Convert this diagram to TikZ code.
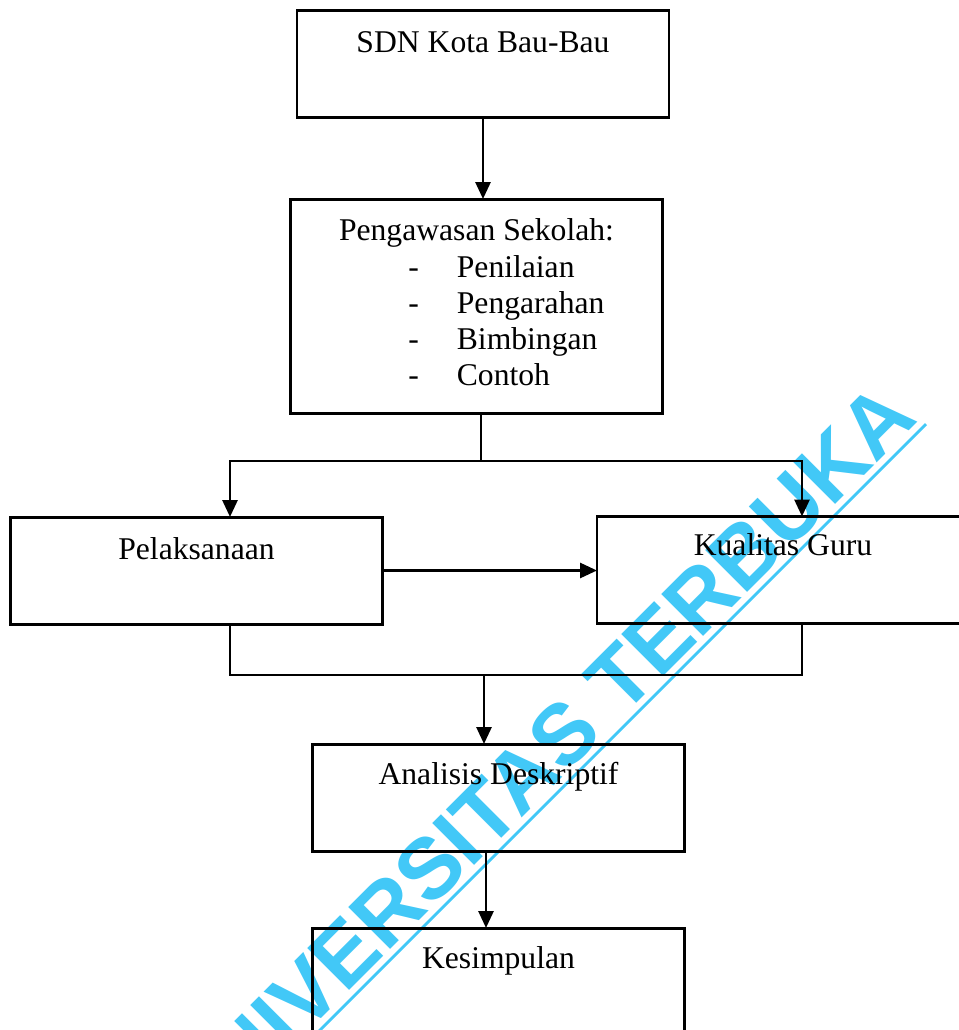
\documentclass[tikz,border=0pt]{standalone}
\usepackage{fontspec}
\setmainfont{Liberation Serif}
\newfontfamily\wmfont{Liberation Sans}
\usepackage{xcolor}
\usepackage{tikz}
\usetikzlibrary{arrows.meta,positioning,calc}
\definecolor{wmblue}{RGB}{66,200,247}
\tikzset{
  flowbox/.style ={rectangle, draw=black, line width=1.7pt,
                   minimum width=74.4mm, minimum height=21.4mm,
                   inner sep=0pt, outer sep=0pt},
  flowtxt/.style ={anchor=base, inner sep=0pt,
                   font=\fontsize{18}{20.6}\selectfont},
  flow/.style    ={-{Triangle[length=3.4mm,width=3mm]}, line width=1.6pt},
  wire/.style    ={line width=1.6pt},
  wmark/.style   ={rotate=45, anchor=base east, inner sep=0pt, text=wmblue,
                   font=\wmfont\bfseries\fontsize{49}{49}\selectfont},
  wmline/.style  ={draw=wmblue, line width=1.6pt}
}

\begin{document}
\begin{tikzpicture}
  \useasboundingbox (0,0) rectangle (19.18,-20.6);
  \clip (0,0) rectangle (19.18,-20.6);

  % ---------------- boxes ----------------
  \node[flowbox] (sdn)  at (9.66,-1.28)  {};
  \node[flowbox, minimum height=42.8mm] (peng) at (9.53,-6.12) {};
  \node[flowbox] (pel)  at (3.93,-11.41) {};
  \node[flowbox] (kual) at (15.66,-11.40) {};
  \node[flowbox] (anl)  at (9.97,-15.95) {};
  \node[flowbox] (kes)  at (9.97,-19.63) {};

  % ---------------- texts ----------------
  \node[flowtxt] (sdn-t)  at ([yshift=-8.4mm]sdn.north)  {SDN Kota Bau-Bau};
  \node[flowtxt] (peng-t) at ([yshift=-8.2mm]peng.north) {Pengawasan Sekolah:};
  \node[flowtxt, anchor=base west] (peng-l) at (8.16,-5.54)
    {\begin{tabular}[t]{@{}l@{\hspace{7.6mm}}l@{}}
       - & Penilaian\\
       - & Pengarahan\\
       - & Bimbingan\\
       - & Contoh
     \end{tabular}};
  \node[flowtxt] (pel-t)  at ([yshift=-8.4mm]pel.north)  {Pelaksanaan};
  \node[flowtxt] (kual-t) at ([yshift=-7.8mm]kual.north) {Kualitas Guru};
  \node[flowtxt] (anl-t)  at ([yshift=-8mm]anl.north)    {Analisis Deskriptif};
  \node[flowtxt] (kes-t)  at ([yshift=-8mm]kes.north)    {Kesimpulan};

  % ---------------- edges ----------------
  \draw[flow] (sdn.south) -- (sdn.south |- peng.north);
  \coordinate (fork) at (9.62,-9.22);
  \draw[wire] (peng.south -| fork) -- (fork);
  \draw[flow] (fork) -| ([xshift=6.7mm]pel.north);
  \draw[flow] (fork) -| ([xshift=3.8mm]kual.north);
  \draw[flow] (pel.east) -- (pel.east -| kual.west);
  % both results come together before the analysis
  \coordinate (join) at (9.68,-13.5);
  \draw[wire] ([xshift=6.7mm]pel.south) |- (join) -| ([xshift=3.8mm]kual.south);
  \draw[flow] (join) -- (join |- anl.north);
  \draw[flow] ([xshift=-2.5mm]anl.south) -- ([xshift=-2.5mm]kes.north);

  % ---------------- watermark ----------------
  \begin{scope}[blend mode=multiply]
    \node[wmark] (wm) at (18.4,-8.4) {UNIVERSITAS TERBUKA};
    \draw[wmline] (18.52,-8.48) -- ++(225:20);
  \end{scope}
\end{tikzpicture}
\end{document}
